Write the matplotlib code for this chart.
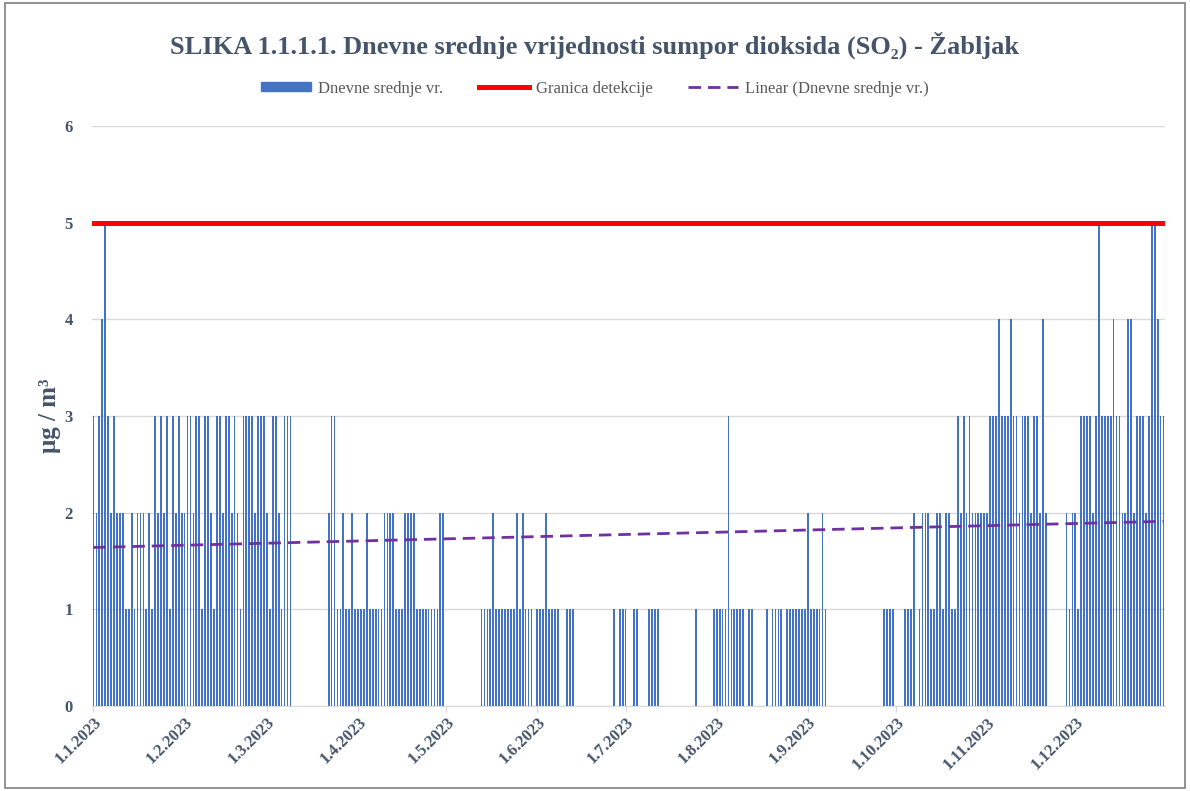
import numpy as np
import matplotlib
matplotlib.use("Agg")
import matplotlib.pyplot as plt
from matplotlib.patches import Rectangle
from matplotlib.lines import Line2D

N = None
jan = [3,2,3,4,5,3,2,3,2,2,2,1,1,2,1,2,2,2,1,2,1,3,2,3,2,3,1,3,2,3,2]
feb = [2,3,3,2,3,3,1,3,3,2,1,3,3,2,3,3,2,3,2,1,3,3,3,3,2,3,3,3]
mar = [2,1,3,3,2,1,3,3,3] + [N]*12 + [2,3,3,1,1,2,1,1,2,1]
apr = [1,1,1,2,1,1,1,1,1,2,2,2,2,1,1,1,2,2,2,2,1,1,1,1,1,1,1,1,2,2]
may = [N]*12 + [1,1,1,1,2,1,1,1,1,1,1,1,2,1,2,1,1,1] + [N]
jun = [1,1,1,2,1,1,1,1,N,N,1,1,1] + [N]*13 + [1,N,1,1]
jul = [1,N,N,1,1,N,N,N,1,1,1,1] + [N]*12 + [1] + [N]*5 + [1]
aug = [1,1,1,1,3,1,1,1,1,1,N,1,1,N,N,N,N,1,N,1,1,1,1,N,1,1,1,1,1,1,1]
sep = [2,1,1,1,1,2,1] + [N]*19 + [1,1,1,1]
oct_ = [N,N,N,1,1,1,2,N,1,2,2,2,1,1,2,2,1,2,2,1,1,3,2,3,2,3,2,2,2,2,2]
nov = [2,3,3,3,4,3,3,3,4,3,3,2,3,3,3,2,3,3,2,4,2,N,N,N,N,N,N,2,1,2]
dec = [2,1,3,3,3,3,2,3,5,3,3,3,3,4,3,3,2,2,4,4,2,3,3,3,2,3,5,5,4,3,3]

months = [jan, feb, mar, apr, may, jun, jul, aug, sep, oct_, nov, dec]
month_labels = ["1.1.2023","1.2.2023","1.3.2023","1.4.2023","1.5.2023","1.6.2023",
                "1.7.2023","1.8.2023","1.9.2023","1.10.2023","1.11.2023","1.12.2023"]
detection_limit = 5
# linear trend values (1 Jan, 31 Dec)
trend_values = [1.64, 1.91]
title = "SLIKA 1.1.1.1. Dnevne srednje vrijednosti sumpor dioksida (SO\u2082) - \u017dabljak"
legend_labels = ["Dnevne srednje vr.", "Granica detekcije", "Linear (Dnevne srednje vr.)"]

vals = np.array([np.nan if v is None else v for m in months for v in m], dtype=float)
days = np.arange(len(vals))
month_starts = np.cumsum([0] + [len(m) for m in months[:-1]])

serif = ["Liberation Serif", "DejaVu Serif"]
txt_col = "#44546A"
bar_col = "#4472C4"

fig = plt.figure(figsize=(11.9, 7.91), dpi=100)
ax = fig.add_axes([0.0773, 0.1075, 0.9017, 0.7332])

mask = ~np.isnan(vals)
ax.bar(days[mask], vals[mask], width=0.6, color=bar_col, zorder=2)
ax.axhline(detection_limit, color="#FF0000", lw=3.6, zorder=3)
ax.plot([days[0], days[-1]], trend_values, color="#7030A0", lw=2,
        ls=(0, (4.5, 2.5)), zorder=4)

ax.set_xlim(-0.5, len(vals) - 0.5)
ax.set_ylim(0, 6)
ax.set_yticks(range(0, 7))
ax.yaxis.grid(True, color="#D9D9D9", lw=1)
ax.set_axisbelow(True)
for s in ["top", "right", "left"]:
    ax.spines[s].set_visible(False)
ax.spines["bottom"].set_color("#D9D9D9")
ax.tick_params(axis="y", length=0, pad=14)
ax.tick_params(axis="x", length=4, color="#D9D9D9", pad=2)
ax.set_xticks(month_starts)
ax.set_xticklabels(month_labels, rotation=45, ha="right", va="top", rotation_mode="anchor")
for lab in ax.get_xticklabels() + ax.get_yticklabels():
    lab.set_fontfamily(serif)
    lab.set_fontweight("bold")
    lab.set_color(txt_col)
    lab.set_fontsize(12)

ax.set_ylabel("\u03bcg / m\u00b3", fontfamily=serif, fontweight="bold", fontsize=18,
              color=txt_col, labelpad=2)

fig.text(0.5, 0.943, title, ha="center", va="center", fontfamily=serif,
         fontweight="bold", fontsize=19, color=txt_col)

handles = [Rectangle((0, 0), 1, 1, color=bar_col),
           Line2D([], [], color="#FF0000", lw=3.6),
           Line2D([], [], color="#7030A0", lw=2, ls=(0, (4.5, 2.5)))]
leg = fig.legend(handles, legend_labels, loc="center", bbox_to_anchor=(0.5, 0.888),
                 ncol=3, frameon=False, handlelength=3.0, handleheight=0.5,
                 handletextpad=0.45, columnspacing=2.1, prop={"family": serif, "size": 12})
for t in leg.get_texts():
    t.set_color("#595959")

fig.patches.append(Rectangle((0.004, 0.004), 0.992, 0.992, transform=fig.transFigure,
                             fill=False, edgecolor="#7F7F7F", lw=1.2))

fig.savefig("out.png", dpi=100)
